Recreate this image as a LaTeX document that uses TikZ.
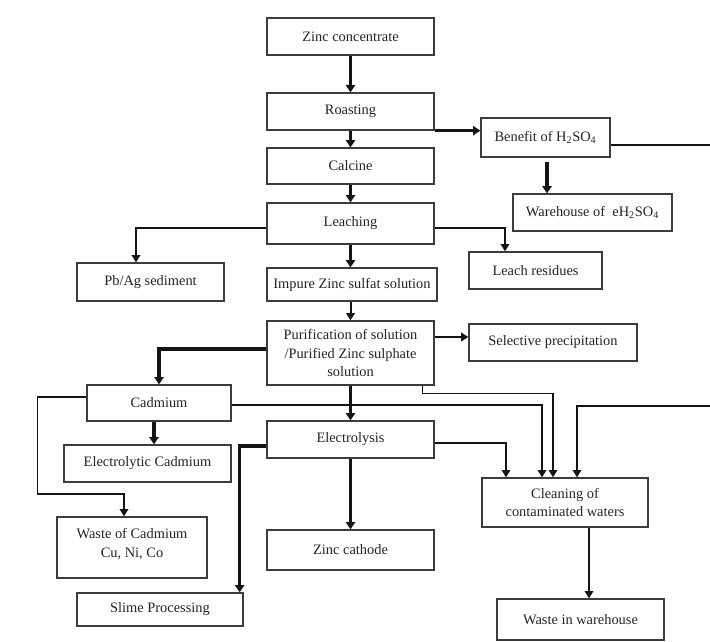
\documentclass[tikz,border=0pt]{standalone}
\usepackage{fontspec}
\setmainfont{Liberation Serif}
\usetikzlibrary{arrows.meta,calc}

\begin{document}
\begin{tikzpicture}[x=0.75pt, y=-0.75pt,
        box/.style 2 args={draw=boxLine, line width=1pt, rectangle, align=center,
            minimum width=#1*0.75pt, minimum height=#2*0.75pt, inner sep=1pt,
            text=textCol, font=\fontsize{10.8}{14}\selectfont},
        thickArrow/.style={draw=lineCol, line width=2.3pt, -{Triangle[width=7pt,length=5.5pt]}},
        midArrow/.style={draw=lineCol, line width=1.5pt, -{Triangle[width=6.5pt,length=5.5pt]}},
        thinArrow/.style={draw=lineCol, line width=1pt, -{Triangle[width=6.5pt,length=5.5pt]}},
        thinLine/.style={draw=lineCol, line width=1pt}]
        % --- CONFIGURATION ---
        \definecolor{boxLine}{RGB}{60, 60, 60}
        \definecolor{lineCol}{RGB}{20, 20, 20}
        \definecolor{textCol}{RGB}{35, 35, 35}

        \useasboundingbox (0,0) rectangle (710,642);

        % --- BOXES (centre, width, height in px) ---
        \node[box={167}{37}] (zc) at (350.5,36.5) {Zinc concentrate};
        \node[box={167}{37}] (roast) at (350.5,111.5) {Roasting};
        \node[box={129}{39}] (ben) at (545.5,137.5) {Benefit of H\textsubscript{2}SO\textsubscript{4}};
        \node[box={167}{36}] (calc) at (350.5,166) {Calcine};
        \node[box={167}{41}] (leach) at (350.5,223.5) {Leaching};
        \node[box={159}{37}] (wh) at (592.5,212.5) {Warehouse of\ \ eH\textsubscript{2}SO\textsubscript{4}};
        \node[box={147}{38}] (pbag) at (150.5,282) {Pb/Ag sediment};
        \node[box={170}{33}] (impure) at (352,284.5) {Impure Zinc sulfat solution};
        \node[box={133}{37}] (resid) at (535.5,270.5) {Leach residues};
        \node[box={167}{64}] (purif) at (350.5,353) {Purification of solution\\/Purified Zinc sulphate\\solution};
        \node[box={168}{37}] (selp) at (553,342.5) {Selective precipitation};
        \node[box={144}{36}] (cad) at (159,403) {Cadmium};
        \node[box={167}{37}] (elec) at (350.5,439.5) {Electrolysis};
        \node[box={167}{37}] (ecad) at (147.5,463.5) {Electrolytic Cadmium};
        \node[box={166}{49}] (clean) at (565,502.5) {Cleaning of\\contaminated waters};
        \node[box={150}{61}] (wcad) at (132,547.5) {Waste of Cadmium\\Cu, Ni, Co\\[-7pt]};
        \node[box={167}{40}] (zcath) at (350.5,550) {Zinc cathode};
        \node[box={166}{33}] (slime) at (160,609.5) {Slime Processing};
        \node[box={167}{41}] (wwh) at (580.5,619.5) {Waste in warehouse};

        % bords droits (lignes coupees)
        \coordinate (edgeA) at (710,145);
        \coordinate (edgeB) at (710,406);

        % --- MAIN LINE ---
        \draw[thickArrow] (zc.south) -- (roast.north);
        \draw[thickArrow] (roast.south) -- (calc.north);
        \draw[thickArrow] (calc.south) -- (leach.north);
        \draw[thickArrow] (leach.south) -- (leach.south |- impure.north);
        \draw[midArrow] (impure.south -| purif.north) -- (purif.north);
        \draw[thickArrow] (purif.south) -- (elec.north);
        \draw[thickArrow] (elec.south) -- (zcath.north);

        % --- SULFURIC ACID ---
        \draw[thickArrow] (roast.south east) -- (roast.south east -| ben.west);
        \draw[thickArrow] ($(ben.south)+(1.5,4)$) -- ($(ben.south |- wh.north)+(1.5,0)$);
        \draw[thinLine] (ben.east |- edgeA) -- (edgeA);

        % --- LEACHING ---
        \draw[midArrow] ($(leach.west)+(0,4.5)$) -| ($(pbag.north)+(-14.5,0)$);
        \draw[thinArrow] ($(leach.east)+(0,4.5)$) -| ($(resid.north)+(-30.5,0)$);

        % --- PURIFICATION ---
        \draw[midArrow] ($(purif.east)+(0,-16)$) -- ($(purif.east -| selp.west)+(0,-16)$);
        \draw[thickArrow] ($(purif.west)+(0,-4)$) -| (cad.north);
        \draw[thinArrow] ($(purif.south east)+(-12,0)$) -- ++(0,8) -| ($(clean.north)+(-12,0)$);

        % --- CADMIUM ---
        \draw[thickArrow] ($(cad.south)+(-5,0)$) -- ($(cad.south |- ecad.north)+(-5,0)$);
        \draw[thinArrow] ($(cad.west)+(0,-6)$) -- ++(-49,0) -- ++(0,97) -| ($(wcad.north)+(-8,0)$);
        \draw[thinArrow] ($(cad.east)+(0,2)$) -| ($(clean.north)+(-23,0)$);

        % --- ELECTROLYSIS ---
        \draw[thinArrow] ($(elec.east)+(0,3.5)$) -| ($(clean.north)+(-59,0)$);
        \draw[thickArrow] ($(elec.west)+(0,6.5)$) -| ($(slime.north east)+(-4,0)$);

        % --- WATERS ---
        \draw[thinArrow] (edgeB) -| ($(clean.north)+(12,0)$);
        \draw[thinArrow] ($(clean.south)+(24,0)$) -- ($(wwh.north)+(8.5,0)$);

    \end{tikzpicture}
\end{document}
